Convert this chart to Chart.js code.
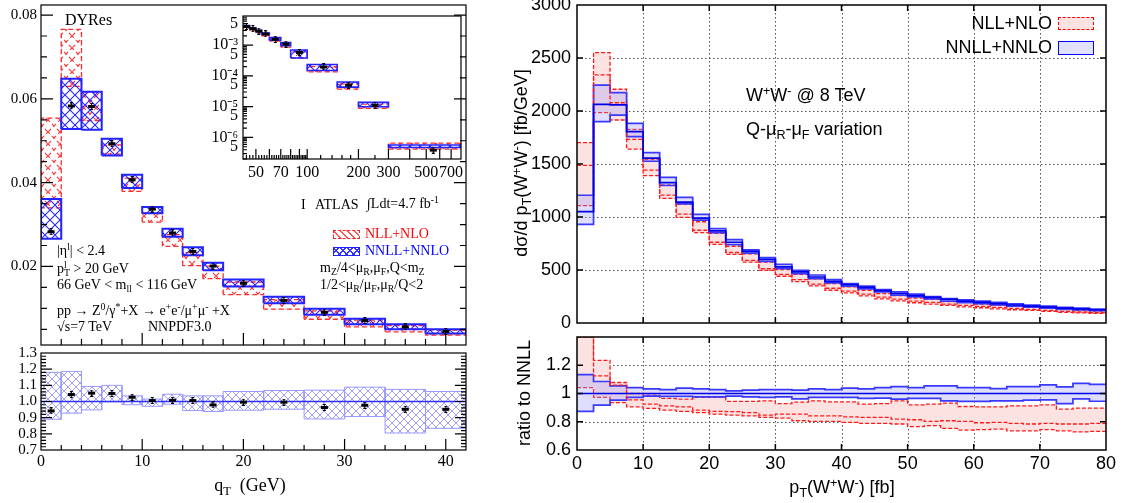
<!DOCTYPE html>
<html>
<head>
<meta charset="utf-8">
<title>qT spectra: DYRes Z/gamma* and W+W- resummation</title>
<script src="https://cdn.jsdelivr.net/npm/chart.js@4.4.1/dist/chart.umd.min.js"></script>
<style>
html, body { margin: 0; padding: 0; background: #fff; }
#fig { position: relative; width: 1123px; height: 503px; overflow: hidden; }
#fig canvas { position: absolute; }
.t { position: absolute; white-space: nowrap; line-height: 1; color: #000; }
.serif { font-family: "Liberation Serif", "DejaVu Serif", serif; }
.sans { font-family: "Liberation Sans", Arial, sans-serif; }
.t sup, .t sub { font-size: 70%; line-height: 0; position: relative; vertical-align: baseline; }
.t sup { top: -0.5em; }
.t sub { top: 0.3em; }
.ss { display: inline-block; font-size: 70%; line-height: 0.8; vertical-align: -0.3em; }
.rot { transform: translate(-50%, -50%) rotate(-90deg); }
.sw { position: absolute; box-sizing: border-box; }
</style>
</head>
<body>
<div id="fig">
  <canvas id="zMain" width="480" height="350" style="left:0;top:0"></canvas>
  <canvas id="zRatio" width="480" height="160" style="left:0;top:343px"></canvas>
  <canvas id="zTail" width="285" height="185" style="left:190px;top:6px"></canvas>
  <canvas id="wwMain" width="643" height="330" style="left:480px;top:0"></canvas>
  <canvas id="wwRatio" width="643" height="175" style="left:480px;top:328px"></canvas>

  <!-- left panel annotations -->
  <div class="t serif" style="left:65px;top:12px;font-size:16px">DYRes</div>
  <div class="t serif" style="left:301px;top:198px;font-size:14px">I</div>
  <div class="t serif" style="left:315px;top:198px;font-size:14px">ATLAS</div>
  <div class="t serif" style="left:367px;top:197px;font-size:14px">&int;Ldt=4.7 fb<sup>-1</sup></div>
  <div class="sw" style="left:333px;top:230px;width:27px;height:9px;border:1px dashed #f22;background:repeating-linear-gradient(45deg,transparent 0 4px,#f55 4px 5px)"></div>
  <div class="t serif" style="left:365px;top:227px;font-size:14px;color:#f00">NLL+NLO</div>
  <div class="sw" style="left:333px;top:247px;width:27px;height:9px;border:1.5px solid #22f;background:repeating-linear-gradient(45deg,transparent 0 4px,#33f 4px 5px),repeating-linear-gradient(-45deg,transparent 0 4px,#33f 4px 5px)"></div>
  <div class="t serif" style="left:365px;top:244px;font-size:14px;color:#00f">NNLL+NNLO</div>
  <div class="t serif" style="left:320px;top:261px;font-size:14px">m<sub>Z</sub>/4&lt;&mu;<sub>R</sub>,&mu;<sub>F</sub>,Q&lt;m<sub>Z</sub></div>
  <div class="t serif" style="left:320px;top:278px;font-size:14px">1/2&lt;&mu;<sub>R</sub>/&mu;<sub>F</sub>,&mu;<sub>R</sub>/Q&lt;2</div>
  <div class="t serif" style="left:57px;top:244px;font-size:14px">|&eta;<sup>l</sup>| &lt; 2.4</div>
  <div class="t serif" style="left:57px;top:261px;font-size:14px">p<span class="ss">l<br>T</span> &gt; 20 GeV</div>
  <div class="t serif" style="left:57px;top:278px;font-size:14px">66 GeV &lt; m<sub>ll</sub> &lt; 116 GeV</div>
  <div class="t serif" style="left:57px;top:304px;font-size:14px">pp &rarr; Z<sup>0</sup>/&gamma;<sup>*</sup>+X &rarr; e<sup>+</sup>e<sup>-</sup>/&mu;<sup>+</sup>&mu;<sup>-</sup> +X</div>
  <div class="t serif" style="left:57px;top:320px;font-size:14px">&radic;s=7 TeV</div>
  <div class="t serif" style="left:148px;top:320px;font-size:14px">NNPDF3.0</div>
  <div class="t serif" style="left:250px;top:485px;transform:translate(-50%,-50%);font-size:18px">q<sub>T</sub>&nbsp;&nbsp;(GeV)</div>

  <!-- right panel annotations -->
  <div class="t sans" style="left:746px;top:86px;font-size:18px">W<sup>+</sup>W<sup>-</sup> @ 8 TeV</div>
  <div class="t sans" style="left:746px;top:120px;font-size:18px">Q-&mu;<sub>R</sub>-&mu;<sub>F</sub> variation</div>
  <div class="t sans" style="right:71px;top:14px;font-size:18px">NLL+NLO</div>
  <div class="t sans" style="right:71px;top:38px;font-size:18px">NNLL+NNLO</div>
  <div class="sw" style="left:1058px;top:17px;width:36px;height:13px;border:1px dashed #f00;background:#fde2e2"></div>
  <div class="sw" style="left:1058px;top:41px;width:36px;height:14px;border:1.5px solid #00f;background:#e2e2fc"></div>
  <div class="t sans rot" style="left:521px;top:163px;font-size:18px">d&sigma;/d p<sub>T</sub>(W<sup>+</sup>W<sup>-</sup>) [fb/GeV]</div>
  <div class="t sans rot" style="left:524px;top:393px;font-size:18px">ratio to NNLL</div>
  <div class="t sans" style="left:842px;top:487px;transform:translate(-50%,-50%);font-size:18px">p<sub>T</sub>(W<sup>+</sup>W<sup>-</sup>) [fb]</div>
</div>

<script>
// ---------- left: Z/gamma* qT at 7 TeV, DYRes vs ATLAS ----------
const qtEdges = [0, 2, 4, 6, 8, 10, 12, 14, 16, 18, 22, 26, 30, 34, 38, 42];
const qtCenters = [1, 3, 5, 7, 9, 11, 13, 15, 17, 20, 24, 28, 32, 36, 40];
const atlasQt = [0.0283, 0.0583, 0.0582, 0.0493, 0.0407, 0.0337, 0.0280, 0.0236, 0.0201, 0.0160, 0.0119, 0.0091, 0.0071, 0.0056, 0.0045];
const nnllUp = [0.0361, 0.0648, 0.0617, 0.0505, 0.0419, 0.0342, 0.0290, 0.0246, 0.0209, 0.0169, 0.0128, 0.0099, 0.0075, 0.0062, 0.0050];
const nnllLo = [0.0266, 0.0528, 0.0526, 0.0465, 0.0387, 0.0327, 0.0271, 0.0227, 0.0191, 0.0152, 0.0112, 0.0085, 0.0062, 0.0050, 0.0040];
const nllUp = [0.0554, 0.0766, 0.0617, 0.0490, 0.0411, 0.0328, 0.0276, 0.0233, 0.0201, 0.0163, 0.0121, 0.0094, 0.0072, 0.0059, 0.0048];
const nllLo = [0.0340, 0.0630, 0.0548, 0.0468, 0.0379, 0.0306, 0.0248, 0.0202, 0.0171, 0.0133, 0.0098, 0.0074, 0.0056, 0.0044, 0.0036];

// ratio to NNLL+NNLO
const ratioAtlas = [0.942, 1.043, 1.052, 1.050, 1.027, 1.006, 1.008, 1.006, 0.979, 0.996, 0.996, 0.963, 0.977, 0.952, 0.952];
const ratioUp = [1.180, 1.186, 1.093, 1.100, 1.035, 1.015, 1.045, 1.035, 1.035, 1.062, 1.068, 1.070, 1.089, 1.075, 1.062];
const ratioLo = [0.890, 0.928, 0.948, 0.998, 0.980, 0.970, 0.983, 0.944, 0.938, 0.946, 0.952, 0.892, 0.907, 0.805, 0.834];
const ratioRef = [1, 1, 1, 1, 1, 1, 1, 1, 1, 1, 1, 1, 1, 1, 1];

// inset: high-qT tail (log-log)
const tailEdges = [42, 46, 50, 54, 60, 70, 80, 100, 150, 200, 300, 800];
const tailCenters = [44, 48, 52, 57, 65, 75, 90, 125, 175, 250, 550];
const atlasTail = [4.0e-3, 3.4e-3, 2.85e-3, 2.3e-3, 1.55e-3, 1.08e-3, 5.8e-4, 1.95e-4, 5.0e-5, 1.1e-5, 3.9e-7];
const nnllTailUp = [4.3e-3, 3.6e-3, 3.0e-3, 2.45e-3, 1.75e-3, 1.2e-3, 6.9e-4, 2.35e-4, 6.3e-5, 1.38e-5, 5.7e-7];
const nnllTailLo = [3.9e-3, 3.3e-3, 2.7e-3, 2.2e-3, 1.45e-3, 0.95e-3, 3.8e-4, 1.5e-4, 4.3e-5, 1.0e-5, 4.7e-7];
const nllTailUp = [4.1e-3, 3.4e-3, 2.8e-3, 2.3e-3, 1.6e-3, 1.1e-3, 6.0e-4, 2.0e-4, 5.5e-5, 1.2e-5, 6.6e-7];
const nllTailLo = [3.6e-3, 3.0e-3, 2.5e-3, 2.0e-3, 1.35e-3, 0.85e-3, 3.8e-4, 1.35e-4, 3.7e-5, 8.8e-6, 4.2e-7];
const tailTicks = [5e-7, 1e-6, 5e-6, 1e-5, 5e-5, 1e-4, 5e-4, 1e-3, 5e-3];
const tailTickLabels = ['5', '10\u207B\u2076', '5', '10\u207B\u2075', '5', '10\u207B\u2074', '5', '10\u207B\u00B3', '5'];

// ---------- right: W+W- pT at 8 TeV ----------
const wwEdges = [0, 2.5, 5, 7.5, 10, 12.5, 15, 17.5, 20, 22.5, 25, 27.5, 30, 32.5, 35, 37.5, 40,
  42.5, 45, 47.5, 50, 52.5, 55, 57.5, 60, 62.5, 65, 67.5, 70, 72.5, 75, 77.5, 80];
const nnllC = [1050, 2063, 2057, 1805, 1556, 1324, 1140, 990, 870, 762, 676, 600, 530, 482, 434, 393,
  362, 336, 305, 277, 258, 241, 224, 207, 195, 183, 170, 160, 150, 141, 133, 125];
const nnllUpWW = [1205, 2245, 2173, 1884, 1607, 1374, 1186, 1025, 891, 786, 690, 616, 553, 497, 453, 409,
  372, 347, 316, 294, 272, 250, 231, 219, 206, 194, 181, 169, 159, 147, 140, 132];
const nnllLoWW = [931, 1899, 1962, 1758, 1526, 1297, 1124, 970, 853, 740, 659, 582, 513, 466, 418, 378,
  348, 322, 293, 262, 246, 228, 207, 193, 182, 171, 159, 150, 140, 129, 124, 116];
const nllC = [1487, 2340, 2078, 1733, 1443, 1207, 1028, 875, 762, 665, 590, 512, 459, 409, 366, 328,
  300, 272, 244, 225, 206, 194, 178, 166, 156, 147, 138, 128, 119, 109, 104, 98];
const nllUpWW = [1702, 2550, 2205, 1827, 1544, 1302, 1120, 955, 845, 724, 653, 575, 503, 459, 416, 372,
  341, 309, 278, 259, 234, 222, 203, 194, 178, 169, 156, 147, 138, 128, 120, 113];
const nllLoWW = [1107, 1984, 1915, 1641, 1390, 1176, 997, 853, 742, 648, 575, 497, 441, 391, 350, 309,
  284, 256, 228, 209, 191, 178, 166, 153, 144, 134, 125, 119, 109, 100, 95, 90];

// ratio to NNLL central
const nnllRatioC = [1, 1, 1, 1, 1, 1, 1, 1, 1, 1, 1, 1, 1, 1, 1, 1, 1, 1, 1, 1, 1, 1, 1, 1, 1, 1, 1, 1, 1, 1, 1, 1];
const nnllRatioUp = [1.134, 1.085, 1.054, 1.042, 1.033, 1.028, 1.038, 1.033, 1.028, 1.019, 1.024, 1.028, 1.028, 1.024, 1.033, 1.028,
  1.038, 1.033, 1.042, 1.049, 1.042, 1.054, 1.054, 1.042, 1.042, 1.035, 1.049, 1.049, 1.061, 1.047, 1.071, 1.065];
const nnllRatioLo = [0.873, 0.918, 0.953, 0.972, 0.981, 0.979, 0.979, 0.976, 0.976, 0.981, 0.976, 0.972, 0.976, 0.962, 0.972, 0.972,
  0.972, 0.965, 0.967, 0.960, 0.965, 0.965, 0.948, 0.944, 0.944, 0.948, 0.948, 0.953, 0.955, 0.929, 0.962, 0.945];
const nllRatioUp = [1.60, 1.235, 1.078, 1.000, 0.988, 0.965, 0.960, 0.972, 0.972, 0.944, 0.944, 0.948, 0.929, 0.939, 0.948, 0.941,
  0.941, 0.925, 0.929, 0.948, 0.920, 0.925, 0.932, 0.908, 0.906, 0.906, 0.913, 0.913, 0.920, 0.889, 0.896, 0.896];
const nllRatioC = [1.40, 1.125, 1.060, 0.955, 0.925, 0.913, 0.906, 0.882, 0.873, 0.871, 0.864, 0.847, 0.854, 0.854, 0.842, 0.842,
  0.835, 0.831, 0.831, 0.819, 0.814, 0.802, 0.807, 0.802, 0.793, 0.795, 0.788, 0.784, 0.788, 0.784, 0.784, 0.788];
const nllRatioLo = [1.042, 0.972, 0.935, 0.905, 0.894, 0.882, 0.873, 0.864, 0.854, 0.847, 0.842, 0.831, 0.826, 0.807, 0.802, 0.802,
  0.795, 0.788, 0.788, 0.784, 0.765, 0.772, 0.753, 0.741, 0.744, 0.748, 0.736, 0.736, 0.744, 0.736, 0.729, 0.732];

// ---------- helpers ----------
// histogram: one point per left edge, plus closing point at the last edge
function steps(edges, vals) {
  const out = vals.map((v, i) => ({ x: edges[i], y: v }));
  out.push({ x: edges[edges.length - 1], y: vals[vals.length - 1] });
  return out;
}
// closed outline of every bin box, broken by gaps
function boxes(edges, up, lo) {
  const out = [];
  up.forEach((u, i) => {
    const a = edges[i], b = edges[i + 1], l = lo[i];
    out.push({ x: a, y: l }, { x: a, y: u }, { x: b, y: u }, { x: b, y: l }, { x: a, y: l }, { x: a, y: null });
  });
  return out;
}
function pts(xs, ys) { return xs.map((x, i) => ({ x: x, y: ys[i] })); }
function range(a, b, s) { const r = []; for (let v = a; v <= b + 1e-9; v += s) r.push(+v.toFixed(6)); return r; }
function logMinor(lo, hi) {
  const r = [];
  for (let e = Math.floor(Math.log10(lo)); e <= Math.ceil(Math.log10(hi)); e++) {
    for (let k = 1; k < 10; k++) { const v = k * Math.pow(10, e); if (v >= lo && v <= hi) r.push(v); }
  }
  return r;
}
const fixW = w => s => { s.width = w; s.paddingTop = 0; s.paddingBottom = 0; s.paddingLeft = 0; s.paddingRight = 0; };
const fixH = h => s => { s.height = h; s.paddingTop = 0; s.paddingBottom = 0; s.paddingLeft = 0; s.paddingRight = 0; };
const setTicks = vals => s => { s.ticks = vals.map(v => ({ value: v })); };

function hatch(color, size, width, dash) {
  const c = document.createElement('canvas');
  c.width = size; c.height = size;
  const g = c.getContext('2d');
  g.strokeStyle = color; g.lineWidth = width;
  if (dash) g.setLineDash(dash);
  g.beginPath();
  g.moveTo(-1, -1); g.lineTo(size + 1, size + 1);
  g.moveTo(size + 1, -1); g.lineTo(-1, size + 1);
  g.stroke();
  return g.createPattern(c, 'repeat');
}
const blueHatch = hatch('#2a2aff', 10, 1.1);
const redHatch = hatch('#ff3030', 12, 1.1, [4, 3]);
const ratioHatch = hatch('#8c8cff', 8, 0.8);

// data marker: black bar with a tiny error bar
const mark = (() => {
  const c = document.createElement('canvas');
  c.width = 9; c.height = 7;
  const g = c.getContext('2d');
  g.fillStyle = '#000';
  g.fillRect(1, 2, 7, 3);
  g.fillRect(4, 0, 1, 7);
  g.fillRect(3, 0, 3, 1);
  g.fillRect(3, 6, 3, 1);
  return c;
})();

// frame, inward ticks and optional dotted grid
const frame = {
  id: 'frame',
  beforeDatasetsDraw(chart, _args, o) {
    if (!o.grid) return;
    const { ctx, chartArea: a, scales: { x, y } } = chart;
    ctx.save();
    ctx.strokeStyle = o.grid.color; ctx.lineWidth = 1; ctx.setLineDash(o.grid.dash);
    o.grid.x.forEach(v => {
      const p = Math.round(x.getPixelForValue(v)) + 0.5;
      ctx.beginPath(); ctx.moveTo(p, a.top); ctx.lineTo(p, a.bottom); ctx.stroke();
    });
    o.grid.y.forEach(v => {
      const p = Math.round(y.getPixelForValue(v)) + 0.5;
      ctx.beginPath(); ctx.moveTo(a.left, p); ctx.lineTo(a.right, p); ctx.stroke();
    });
    ctx.restore();
  },
  afterDatasetsDraw(chart, _args, o) {
    const { ctx, chartArea: a, scales: { x, y } } = chart;
    const sides = o.sides;
    ctx.save();
    ctx.strokeStyle = '#000'; ctx.lineWidth = o.width; ctx.setLineDash([]);
    ctx.beginPath();
    const xt = (vals, len) => vals.forEach(v => {
      const p = x.getPixelForValue(v);
      if (sides.includes('b')) { ctx.moveTo(p, a.bottom); ctx.lineTo(p, a.bottom - len); }
      if (sides.includes('t')) { ctx.moveTo(p, a.top); ctx.lineTo(p, a.top + len); }
    });
    const yt = (vals, len) => vals.forEach(v => {
      const p = y.getPixelForValue(v);
      if (sides.includes('l')) { ctx.moveTo(a.left, p); ctx.lineTo(a.left + len, p); }
      if (sides.includes('r')) { ctx.moveTo(a.right, p); ctx.lineTo(a.right - len, p); }
    });
    xt(o.xMajor, o.major); xt(o.xMinor, o.minor);
    yt(o.yMajor, o.major); yt(o.yMinor, o.minor);
    ctx.stroke();
    ctx.strokeRect(a.left, a.top, a.right - a.left, a.bottom - a.top);
    ctx.restore();
  }
};

function baseOptions(pad, scales, frameOpts) {
  return {
    responsive: false,
    animation: false,
    devicePixelRatio: 1,
    events: [],
    layout: { padding: pad },
    plugins: { legend: { display: false }, tooltip: { enabled: false }, frame: frameOpts },
    scales: scales
  };
}
function axis(o) {
  return Object.assign({ grid: { display: false, drawTicks: false }, border: { display: false } }, o);
}
const serif15 = { family: '"Liberation Serif", serif', size: 15 };
const serif16 = { family: '"Liberation Serif", serif', size: 16 };
const sans18 = { family: '"Liberation Sans", Arial, sans-serif', size: 18 };

function histBand(edges, up, lo, fillStyle, order) {
  return [
    { data: steps(edges, up), stepped: true, borderWidth: 0, pointRadius: 0, fill: '+1', backgroundColor: fillStyle, order: order },
    { data: steps(edges, lo), stepped: true, borderWidth: 0, pointRadius: 0, fill: false, order: order - 0.5 }
  ];
}

// ---------- left main ----------
new Chart(document.getElementById('zMain'), {
  type: 'line',
  data: { datasets: [
    ...histBand(qtEdges, nllUp, nllLo, redHatch, 20),
    { data: boxes(qtEdges, nllUp, nllLo), borderColor: '#ff2a2a', borderWidth: 1.3, borderDash: [5, 3], pointRadius: 0, fill: false, order: 18 },
    ...histBand(qtEdges, nnllUp, nnllLo, blueHatch, 17),
    { data: boxes(qtEdges, nnllUp, nnllLo), borderColor: '#2323ff', borderWidth: 2, pointRadius: 0, fill: false, order: 15 },
    { data: pts(qtCenters, atlasQt), showLine: false, pointStyle: mark, pointRadius: 4, order: 1 }
  ] },
  options: baseOptions({ left: 0, right: 14, top: 5, bottom: 3 }, {
    x: { type: 'linear', min: 0, max: 42, display: false },
    y: axis({ type: 'linear', min: 0.00126, max: 0.0824, afterFit: fixW(41), afterBuildTicks: setTicks([0.02, 0.04, 0.06, 0.08]),
      ticks: { font: serif15, color: '#000', padding: 4, autoSkip: false, callback: v => v.toFixed(2) } })
  }, { sides: 'lbr', width: 1.2, major: 12, minor: 6, xMajor: [10, 20, 30, 40], xMinor: range(2, 40, 2),
       yMajor: [0.02, 0.04, 0.06, 0.08], yMinor: range(0.005, 0.08, 0.005) }),
  plugins: [frame]
});

// ---------- left ratio ----------
new Chart(document.getElementById('zRatio'), {
  type: 'line',
  data: { datasets: [
    ...histBand(qtEdges, ratioUp, ratioLo, ratioHatch, 10),
    { data: boxes(qtEdges, ratioUp, ratioLo), borderColor: '#9a9aff', borderWidth: 1, pointRadius: 0, fill: false, order: 8 },
    { data: steps(qtEdges, ratioRef), stepped: true, borderColor: '#3030ff', borderWidth: 1.5, pointRadius: 0, fill: false, order: 5 },
    { data: pts(qtCenters, ratioAtlas), showLine: false, pointStyle: mark, pointRadius: 4, order: 1 }
  ] },
  options: baseOptions({ left: 0, right: 14, top: 10, bottom: 0 }, {
    x: axis({ type: 'linear', min: 0, max: 42, afterFit: fixH(53), afterBuildTicks: setTicks([0, 10, 20, 30, 40]),
      ticks: { font: serif16, color: '#000', padding: 2, autoSkip: false, maxRotation: 0, callback: v => String(v) } }),
    y: axis({ type: 'linear', min: 0.7, max: 1.3, afterFit: fixW(41), afterBuildTicks: setTicks([0.7, 0.8, 0.9, 1.0, 1.1, 1.2, 1.3]),
      ticks: { font: serif15, color: '#000', padding: 4, autoSkip: false, callback: v => v.toFixed(1) } })
  }, { sides: 'lbr', width: 1.2, major: 11, minor: 5, xMajor: [10, 20, 30, 40], xMinor: range(2, 40, 2),
       yMajor: [0.8, 0.9, 1.0, 1.1, 1.2], yMinor: range(0.72, 1.28, 0.02) }),
  plugins: [frame]
});

// ---------- left inset ----------
new Chart(document.getElementById('zTail'), {
  type: 'line',
  data: { datasets: [
    ...histBand(tailEdges, nllTailUp, nllTailLo, redHatch, 20),
    { data: boxes(tailEdges, nllTailUp, nllTailLo), borderColor: '#ff2a2a', borderWidth: 1.2, borderDash: [5, 3], pointRadius: 0, fill: false, order: 18 },
    ...histBand(tailEdges, nnllTailUp, nnllTailLo, blueHatch, 17),
    { data: boxes(tailEdges, nnllTailUp, nnllTailLo), borderColor: '#2323ff', borderWidth: 1.6, pointRadius: 0, fill: false, order: 15 },
    { data: pts(tailCenters, atlasTail), showLine: false, pointStyle: mark, pointRadius: 4, order: 1 }
  ] },
  options: baseOptions({ left: 0, right: 14, top: 10, bottom: 0 }, {
    x: axis({ type: 'logarithmic', min: 42, max: 800, afterFit: fixH(32), afterBuildTicks: setTicks([50, 70, 100, 200, 300, 500, 700]),
      ticks: { font: serif16, color: '#000', padding: 4, autoSkip: false, maxRotation: 0, callback: v => String(v) } }),
    y: axis({ type: 'logarithmic', min: 2e-7, max: 8.8e-3, afterFit: fixW(53), afterBuildTicks: setTicks(tailTicks),
      ticks: { font: serif16, color: '#000', padding: 5, autoSkip: false, callback: (v, i) => tailTickLabels[i] } })
  }, { sides: 'lb', width: 1.2, major: 10, minor: 4,
       xMajor: [50, 60, 70, 80, 90, 100, 200, 300, 400, 500, 600, 700],
       xMinor: [...range(44, 98, 2), 120, 140, 160, 180, 250],
       yMajor: [1e-6, 1e-5, 1e-4, 1e-3], yMinor: logMinor(2e-7, 8.8e-3) }),
  plugins: [frame]
});

// ---------- right main ----------
const redLine = { borderColor: '#ff1a1a', borderWidth: 1.3, borderDash: [4, 2], pointRadius: 0, stepped: true };
const blueEdge = { borderColor: '#3838ff', borderWidth: 1.7, pointRadius: 0, stepped: true };
const blueMid = { borderColor: '#0000e6', borderWidth: 1.7, pointRadius: 0, stepped: true };
const pinkFill = '#fde2e2';
const lavFill = 'rgba(150,150,250,0.30)';

new Chart(document.getElementById('wwMain'), {
  type: 'line',
  data: { datasets: [
    Object.assign({ data: steps(wwEdges, nllUpWW), fill: '+1', backgroundColor: pinkFill, order: 12 }, redLine),
    Object.assign({ data: steps(wwEdges, nllLoWW), fill: false, order: 11 }, redLine),
    Object.assign({ data: steps(wwEdges, nnllUpWW), fill: '+1', backgroundColor: lavFill, order: 10 }, blueEdge),
    Object.assign({ data: steps(wwEdges, nnllLoWW), fill: false, order: 9 }, blueEdge),
    Object.assign({ data: steps(wwEdges, nllC), fill: false, order: 6 }, redLine),
    Object.assign({ data: steps(wwEdges, nnllC), fill: false, order: 5 }, blueMid)
  ] },
  options: baseOptions({ left: 0, right: 17, top: 5, bottom: 7 }, {
    x: { type: 'linear', min: 0, max: 80, display: false },
    y: axis({ type: 'linear', min: 0, max: 3000, afterFit: fixW(97), afterBuildTicks: setTicks([0, 500, 1000, 1500, 2000, 2500, 3000]),
      ticks: { font: sans18, color: '#000', padding: 6, autoSkip: false, callback: v => String(v) } })
  }, { sides: 'lbrt', width: 1.5, major: 6, minor: 0, xMajor: range(10, 70, 10), xMinor: [],
       yMajor: [500, 1000, 1500, 2000, 2500], yMinor: [],
       grid: { color: '#555', dash: [1.5, 2.5], x: range(10, 70, 10), y: [500, 1000, 1500, 2000, 2500] } }),
  plugins: [frame]
});

// ---------- right ratio ----------
new Chart(document.getElementById('wwRatio'), {
  type: 'line',
  data: { datasets: [
    Object.assign({ data: steps(wwEdges, nllRatioUp), fill: '+1', backgroundColor: pinkFill, order: 12 }, redLine),
    Object.assign({ data: steps(wwEdges, nllRatioLo), fill: false, order: 11 }, redLine),
    Object.assign({ data: steps(wwEdges, nnllRatioUp), fill: '+1', backgroundColor: lavFill, order: 10 }, blueEdge),
    Object.assign({ data: steps(wwEdges, nnllRatioLo), fill: false, order: 9 }, blueEdge),
    Object.assign({ data: steps(wwEdges, nllRatioC), fill: false, order: 6 }, redLine),
    Object.assign({ data: steps(wwEdges, nnllRatioC), fill: false, order: 5 }, blueMid)
  ] },
  options: baseOptions({ left: 0, right: 17, top: 9, bottom: 0 }, {
    x: axis({ type: 'linear', min: 0, max: 80, afterFit: fixH(53), afterBuildTicks: setTicks(range(0, 80, 10)),
      ticks: { font: sans18, color: '#000', padding: 3, autoSkip: false, maxRotation: 0, callback: v => String(v) } }),
    y: axis({ type: 'linear', min: 0.6, max: 1.4, afterFit: fixW(97), afterBuildTicks: setTicks([0.6, 0.8, 1.0, 1.2]),
      ticks: { font: sans18, color: '#000', padding: 6, autoSkip: false, callback: v => (v === 1 ? '1' : v.toFixed(1)) } })
  }, { sides: 'lbrt', width: 1.5, major: 6, minor: 0, xMajor: range(10, 70, 10), xMinor: [],
       yMajor: [0.8, 1.0, 1.2], yMinor: [],
       grid: { color: '#555', dash: [1.5, 2.5], x: range(10, 70, 10), y: [0.8, 1.2] } }),
  plugins: [frame]
});
</script>
</body>
</html>
